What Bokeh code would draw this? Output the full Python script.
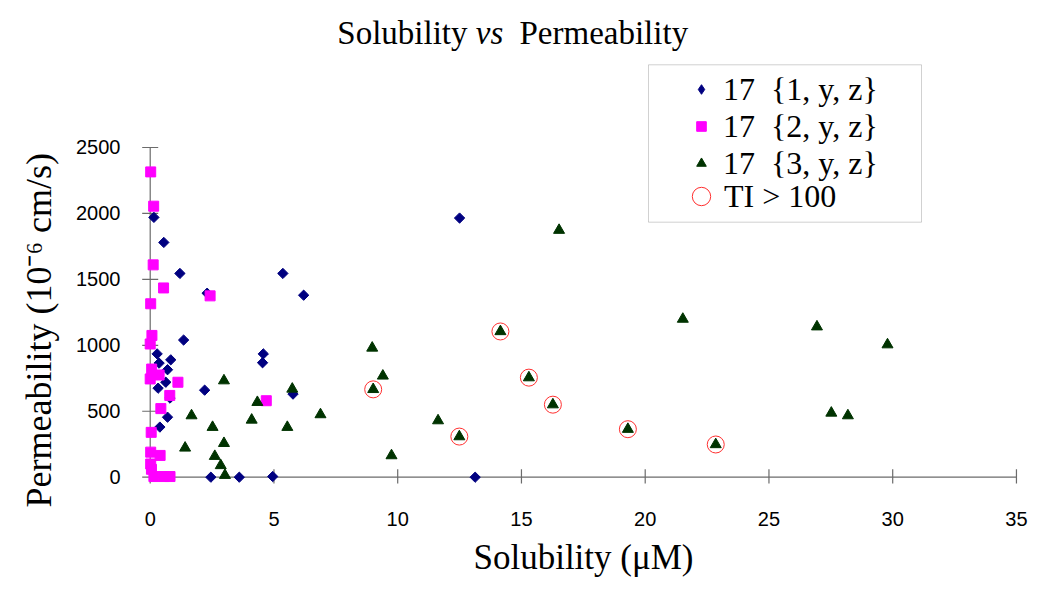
import math
from bokeh.plotting import figure
from bokeh.models import Legend, LegendItem, Label, FixedTicker, Range1d, Title, BoxAnnotation
from bokeh.embed import file_html
from bokeh.resources import INLINE

# ---- data ----
s1_x = [0.15, 0.55, 1.2, 2.3, 1.35, 0.28, 0.36, 0.83, 0.70, 0.63, 0.32, 2.2, 0.8, 0.70, 0.39,
        2.45, 3.6, 4.95, 4.57, 4.54, 5.77, 12.5, 5.36, 6.2, 13.13]
s1_y = [1970, 1780, 1545, 1395, 1040, 935, 865, 890, 815, 720, 675, 660, 600, 455, 380,
        0, 0, 5, 935, 868, 630, 1965, 1545, 1380, 0]

s2_x = [0.02, 0.14, 0.12, 0.54, 2.42, 0.02, 0.07, 0.0, 0.06, 0.0, 0.36, 1.12, 0.79, 0.43, 0.04,
        4.69, 0.02, 0.4, 0.02, 0.05, 0.15, 0.55, 0.8]
s2_y = [2315, 2055, 1610, 1435, 1375, 1315, 1075, 1010, 820, 745, 775, 720, 620, 520, 340,
        580, 190, 165, 100, 60, 5, 5, 5]

s3_x = [2.98, 1.67, 2.52, 2.98, 1.41, 2.61, 2.85, 3.02, 4.33, 4.10, 5.54, 5.74, 6.88, 8.97,
        9.40, 9.01, 11.63, 9.75, 12.49, 14.15, 15.30, 16.27, 16.52, 21.52, 26.94, 29.79,
        19.30, 22.85, 27.52, 28.19]
s3_y = [732, 467, 379, 257, 222, 159, 89, 15, 568, 434, 379, 669, 475, 980,
        768, 666, 429, 164, 308, 1105, 755, 550, 1873, 1199, 1141, 1005,
        364, 248, 487, 467]

ti_x = [9.01, 12.49, 14.15, 15.30, 16.27, 19.30, 22.85]
ti_y = [666, 308, 1105, 755, 550, 364, 248]

x_ticks = [0, 5, 10, 15, 20, 25, 30, 35]
y_ticks = [0, 500, 1000, 1500, 2000, 2500]

series_labels = ["17  {1, y, z}", "17  {2, y, z}", "17  {3, y, z}", "TI > 100"]
title_parts = ["Solubility", "vs", "Permeability"]
x_title = "Solubility (\u03bcM)"
y_title = "Permeability (10\u207b\u2076 cm/s)"

SERIF = "Liberation Serif"
SANS = "Liberation Sans"
AXIS_COLOR = "#6b6b6b"
C1, C2, C3, C4 = "#000080", "#FF00FF", "#003300", "#FF3030"

p = figure(width=1034, height=581,
           min_border_left=140, min_border_right=8, min_border_top=0, min_border_bottom=98,
           x_range=Range1d(-0.392, 35.406), y_range=Range1d(-47.8, 3614.6),
           output_backend="svg", toolbar_location=None, tools="")
p.title.visible = False
p.outline_line_color = None
p.xgrid.grid_line_color = None
p.ygrid.grid_line_color = None
p.background_fill_color = "white"
p.border_fill_color = "white"

# axis lines and crossing tick marks, drawn at the data zero lines
nx, ny = len(x_ticks), len(y_ticks)
p.segment(x0=[x_ticks[0], x_ticks[0]], y0=[y_ticks[0], y_ticks[0]],
          x1=[x_ticks[-1], x_ticks[0]], y1=[y_ticks[0], y_ticks[-1]],
          line_color=AXIS_COLOR, line_width=1.2)
p.scatter(x=x_ticks, y=[y_ticks[0]] * nx, marker="dash", angle=math.pi / 2, size=16,
          line_color=AXIS_COLOR, line_width=1.2)
p.scatter(x=[x_ticks[0]] * ny, y=y_ticks, marker="dash", size=16,
          line_color=AXIS_COLOR, line_width=1.2)

# legend-only swatch for series 1 (legend glyphs ignore the marker angle); hidden in the plot
r1_key = p.scatter(s1_x, s1_y, marker="diamond", fill_color=C1, line_color=C1, visible=False)
r1 = p.scatter(s1_x, s1_y, marker="square", angle=math.pi / 4, size=7.3,
               fill_color=C1, line_color=C1)
r2 = p.scatter(s2_x, s2_y, marker="square", size=10, fill_color=C2, line_color=C2)
r3 = p.scatter(s3_x, s3_y, marker="triangle", size=11, fill_color=C3, line_color=C3)
r4 = p.scatter(ti_x, ti_y, marker="circle", size=17,
               fill_color=None, line_color=C4, line_width=1)

for ax in (p.xaxis[0], p.yaxis[0]):
    ax.axis_line_color = None
    ax.major_tick_line_color = None
    ax.minor_tick_line_color = None
    ax.major_tick_in = 0
    ax.major_tick_out = 0
    ax.major_label_text_font = SANS
    ax.major_label_text_font_size = "20px"
    ax.major_label_text_color = "black"
    ax.axis_label_text_font = SERIF
    ax.axis_label_text_font_style = "normal"
    ax.axis_label_text_color = "black"

p.xaxis.ticker = FixedTicker(ticks=x_ticks)
p.yaxis.ticker = FixedTicker(ticks=y_ticks)
p.xaxis.major_label_standoff = 28
p.yaxis.major_label_standoff = 20
p.xaxis.axis_label = x_title
p.xaxis.axis_label_text_font_size = "35px"
p.xaxis.axis_label_standoff = 9

p.add_layout(Title(text=y_title, align="left", offset=-24, standoff=30,
                   text_font=SERIF, text_font_size="36px", text_font_style="normal",
                   text_color="black"), "left")

# legend frame
p.add_layout(BoxAnnotation(left=508, right=781, bottom=261.3, top=418.7,
                           left_units="screen", right_units="screen",
                           bottom_units="screen", top_units="screen",
                           fill_color="white", fill_alpha=1.0,
                           line_color="#666666", line_width=1))

leg_common = dict(padding=0, margin=0,
                  label_text_font=SERIF, label_text_font_size="32px", label_text_color="black",
                  border_line_color=None, background_fill_alpha=0.0,
                  inactive_fill_alpha=0.0)
legend1 = Legend(items=[LegendItem(label=series_labels[0], renderers=[r1_key]),
                        LegendItem(label=series_labels[1], renderers=[r2]),
                        LegendItem(label=series_labels[2], renderers=[r3])],
                 location=(549, 301.5), glyph_width=24, glyph_height=24, spacing=-3,
                 label_standoff=10, label_height=35, **leg_common)
legend2 = Legend(items=[LegendItem(label=series_labels[3], renderers=[r4])],
                 location=(538, 263), glyph_width=46, glyph_height=48, spacing=0,
                 label_standoff=0, label_height=35, **leg_common)
p.add_layout(legend1)
p.add_layout(legend2)

title_font = "33px"
ty = 451
p.add_layout(Label(x=327, y=ty, x_units="screen", y_units="screen", text=title_parts[0],
                   text_align="right", text_baseline="alphabetic",
                   text_font=SERIF, text_font_size=title_font, text_color="black"))
p.add_layout(Label(x=349, y=ty, x_units="screen", y_units="screen", text=title_parts[1],
                   text_align="center", text_baseline="alphabetic", text_font_style="italic",
                   text_font=SERIF, text_font_size=title_font, text_color="black"))
p.add_layout(Label(x=379, y=ty, x_units="screen", y_units="screen", text=title_parts[2],
                   text_align="left", text_baseline="alphabetic",
                   text_font=SERIF, text_font_size=title_font, text_color="black"))

open("out.html", "w").write(file_html(p, INLINE))
